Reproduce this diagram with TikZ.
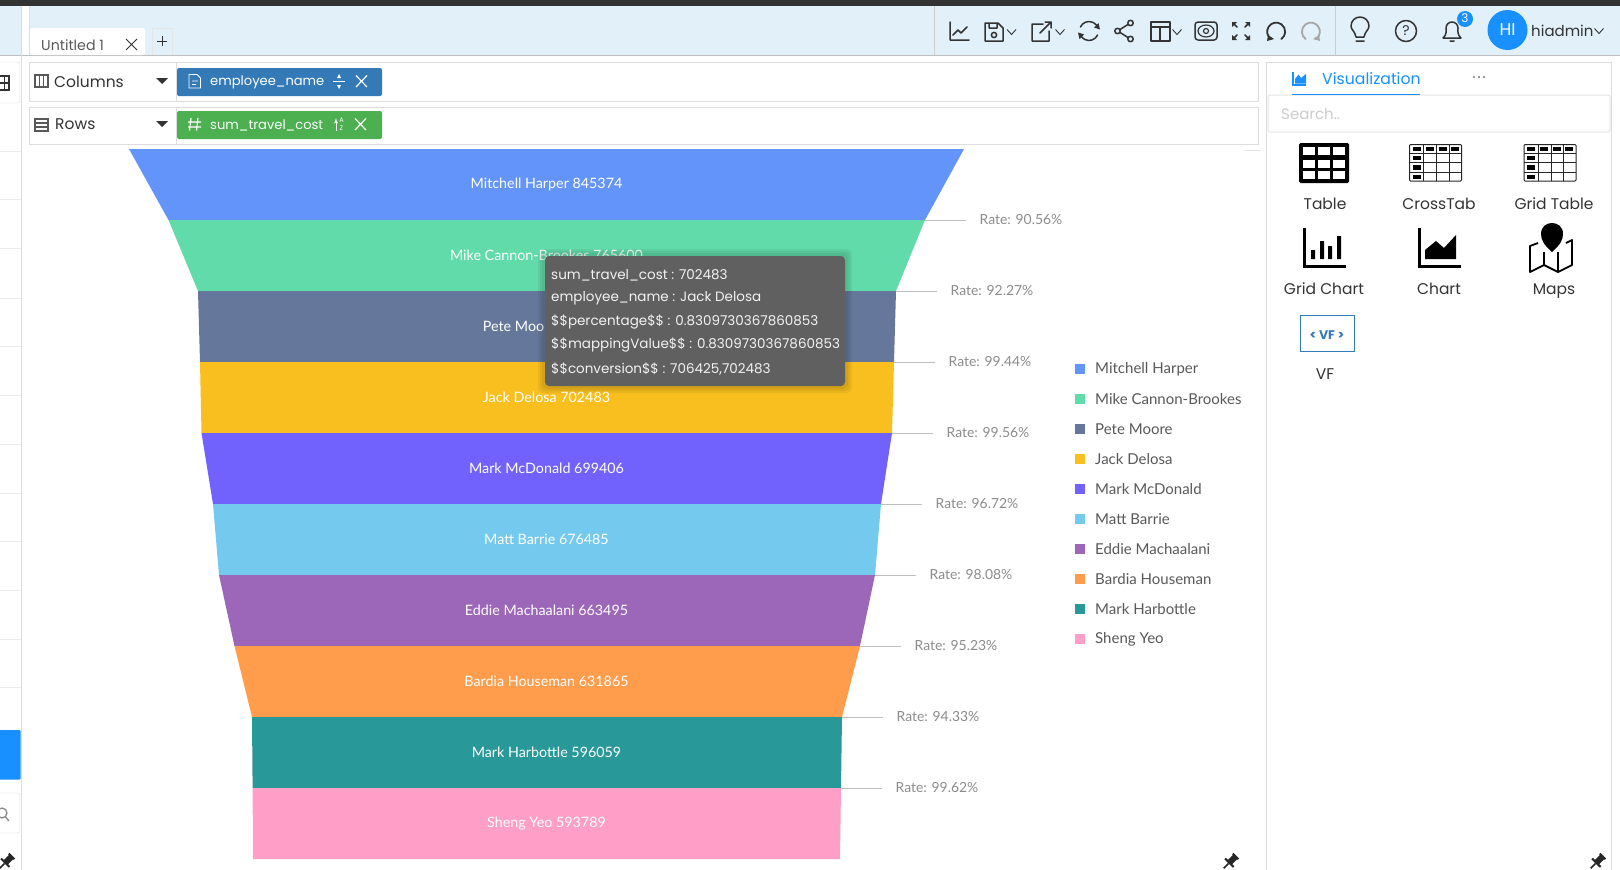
\documentclass[tikz,border=0pt]{standalone}
\usepackage{fontspec}
\setmainfont{Poppins}
\newfontfamily\chartfont{Lato}
\usetikzlibrary{arrows}
\usetikzlibrary{positioning}
\usetikzlibrary{math}
\definecolor{headbg}{HTML}{E1F0F9}
\definecolor{rule}{HTML}{DDDDDD}
\definecolor{ink}{HTML}{333333}
\definecolor{rategray}{HTML}{8C8C8C}
\definecolor{legendink}{HTML}{595959}
\definecolor{uiblue}{HTML}{1890FF}
\definecolor{pillblue}{HTML}{337AB7}
\definecolor{pillgreen}{HTML}{4CAF50}
\definecolor{tipgray}{HTML}{606060}
\definecolor{c1}{HTML}{6294F9}
\definecolor{c2}{HTML}{61DBA9}
\definecolor{c3}{HTML}{65789B}
\definecolor{c4}{HTML}{F8BF1F}
\definecolor{c5}{HTML}{7262FD}
\definecolor{c6}{HTML}{74C9EE}
\definecolor{c7}{HTML}{9C67B8}
\definecolor{c8}{HTML}{FF9D4C}
\definecolor{c9}{HTML}{289898}
\definecolor{c10}{HTML}{FF9EC6}
\tikzstyle{seglabel} = [text=white, font=\chartfont\fontsize{14.3}{16}\selectfont, inner sep=0pt]
\tikzstyle{ratelabel} = [anchor=west, text=rategray, font=\chartfont\fontsize{13.9}{16}\selectfont, inner sep=0pt]
\tikzstyle{legendlabel} = [anchor=west, text=legendink, font=\chartfont\fontsize{15}{17}\selectfont, inner sep=0pt]
\tikzstyle{leader} = [draw=black!25, line width=0.9pt]
\tikzstyle{uilabel} = [text=ink, font=\fontsize{15.5}{17}\selectfont, inner sep=0pt]
\tikzstyle{pilllabel} = [anchor=west, text=white, font=\fontsize{13.1}{16}\selectfont, inner sep=0pt]
\tikzstyle{tiplabel} = [anchor=west, text=white!95!black, font=\fontsize{13.5}{16}\selectfont, inner sep=0pt]
\tikzstyle{framebox} = [draw=rule, line width=1pt, fill=white]
\tikzstyle{icon} = [draw=ink, line width=1.5pt, line cap=round, line join=round]
\tikzstyle{chevron} = [draw=ink, line width=0.9pt]
\tikzstyle{cross} = [draw=white, line width=1.2pt]

\begin{document}
\begin{tikzpicture}[x=1pt, y=-1pt, >=latex']

  \useasboundingbox (0,0) rectangle (1620,870);
  \fill[white] (0,0) rectangle (1620,870);

  % header
  \fill[headbg] (0,5) rectangle (1620,55);
  \fill[ink] (0,0) rectangle (1620,5.5);
  \fill[white] (21,5.5) rectangle (29,55);
  \draw[black!25, line width=1pt] (0,55) -- (1620,55);
  \draw[rule, line width=1pt] (21.5,5.5) -- (21.5,870);
  \draw[rule, line width=1pt] (29,5.5) -- (29,55);
  \draw[black!20, line width=1pt] (934,5.5) -- (934,55);
  \draw[black!20, line width=1pt] (1335,5.5) -- (1335,55);

  \fill[white, rounded corners=2pt] (30,28) -- (145,28) -- (145,55) -- (30,55) -- cycle;
  \node[uilabel, anchor=west, text=black!65, font=\fontsize{14.2}{16}\selectfont] (tabname) at (41,45) {Untitled 1};
  \draw[ink, line width=1pt] (126,39) -- (137,50) (137,39) -- (126,50);
  \draw[black!10] (152,55) -- (152,28) -- (172,28) -- (172,55);
  \draw[ink, line width=1pt] (157,41) -- (167,41) (162,36) -- (162,46);

  % left rail
  \foreach \y in {151,199,248,298,346,395,444,493,541,590,639,687} {
    \draw[black!8] (0,\y) -- (21,\y);
  }
  \draw[rule, rounded corners=2pt] (-3,62) rectangle (19.5,103);
  \draw[ink, line width=1.4pt] (0,76) -- (9,76) -- (9,90) -- (0,90) (0,83) -- (9,83) (4.5,76) -- (4.5,90);
  \fill[uiblue, rounded corners=1pt] (-3,730) rectangle (20.5,779.5);
  \draw[rule, rounded corners=2pt] (-3,793) rectangle (19.5,833);
  \draw[black!45, line width=1.3pt] (2,813) circle (5) (5.5,817) -- (9,821);

  % columns and rows
  \draw[framebox] (29,62) rectangle (1258,101);
  \draw[framebox] (29,107) rectangle (1258,144.5);
  \draw[rule, line width=1pt] (176,62) -- (176,101) (176,107) -- (176,144.5);

  \draw[black!65, line width=1.2pt] (35,75) rectangle (48,87) (39.3,75) -- (39.3,87) (43.6,75) -- (43.6,87);
  \node[uilabel, anchor=west] (columnslabel) at (54,81.5) {Columns};
  \fill[ink] (156,78) -- (168,78) -- (162,84) -- cycle;
  \fill[pillblue, rounded corners=2pt] (177,68) rectangle (382,96);
  \draw[white, line width=0.9pt] (189,74.5) -- (197,74.5) -- (200.5,78) -- (200.5,88) -- (189,88) -- cycle (192,81) -- (198,81) (192,84.5) -- (196,84.5);
  \node[pilllabel] (columnpill) at (210,82) {employee\_name};
  \draw[white, line width=0.9pt] (333,81.5) -- (345,81.5);
  \fill[white] (339,74) -- (341,78) -- (337,78) -- cycle (339,89) -- (341,85) -- (337,85) -- cycle;
  \draw[cross] (356,75.5) -- (367,87) (367,75.5) -- (356,87);

  \draw[black!65, line width=1.2pt] (35,119) rectangle (48,131) (35,123) -- (48,123) (35,127) -- (48,127);
  \node[uilabel, anchor=west] (rowslabel) at (55,124.5) {Rows};
  \fill[ink] (156,121) -- (168,121) -- (162,127) -- cycle;
  \fill[pillgreen, rounded corners=2pt] (177,111) rectangle (382,139);
  \draw[white, line width=1.2pt] (191,118) -- (189.5,130.5) (198,118) -- (196.5,130.5) (188,122) -- (201,122) (188,127) -- (201,127);
  \node[pilllabel] (rowpill) at (210,125) {sum\_travel\_cost};
  \draw[white, line width=0.9pt, ->] (336,131) -- (336,118);
  \node[inner sep=0pt, text=white, font=\fontsize{6.5}{7}\selectfont] (sorta) at (341.5,120) {A};
  \node[inner sep=0pt, text=white, font=\fontsize{6.5}{7}\selectfont] (sortz) at (341.5,128) {Z};
  \draw[cross] (355,118.5) -- (366,130) (366,118.5) -- (355,130);

  % funnel
  \foreach \i/\xa/\xb/\xc/\xd/\txt in {
    0/129/964/168.5/925/Mitchell Harper 845374,
    1/168.5/925/198/896/Mike Cannon-Brookes 765600,
    2/198/896/200/894/Pete Moore 706425,
    3/200/894/201.5/892/Jack Delosa 702483,
    4/201.5/892/213/881/Mark McDonald 699406,
    5/213/881/219/875/Matt Barrie 676485,
    6/219/875/234.5/860/Eddie Machaalani 663495,
    7/234.5/860/252/842/Bardia Houseman 631865,
    8/252/842/252.6/841/Mark Harbottle 596059,
    9/252.6/841/253/840/Sheng Yeo 593789} {
    \tikzmath{integer \k; \k = \i+1; \ya = 149+71*\i; \yb = \ya+71; \ym = \ya+35.5;}
    \fill[c\k] (\xa,\ya) -- (\xb,\ya) -- (\xd,\yb) -- (\xc,\yb) -- cycle;
    \node[seglabel] (seg\k) at (546.5,\ym) {\txt};
  }

  % rates
  \foreach \k/\xr/\txt in {
    1/925/90.56, 2/896/92.27, 3/894/99.44, 4/892/99.56, 5/881/96.72,
    6/875/98.08, 7/860/95.23, 8/842/94.33, 9/841/99.62} {
    \tikzmath{\yr = 149+71*\k; \xe = \xr+41; \xt = \xr+54.5;}
    \coordinate (rs\k) at (\xr,\yr);
    \coordinate (re\k) at (\xe,\yr);
    \node[ratelabel] (rate\k) at (\xt,\yr) {Rate: \txt\%};
    \draw[leader] (rs\k) -- (re\k);
  }

  % legend
  \foreach \k/\txt in {
    1/Mitchell Harper, 2/Mike Cannon-Brookes, 3/Pete Moore, 4/Jack Delosa, 5/Mark McDonald,
    6/Matt Barrie, 7/Eddie Machaalani, 8/Bardia Houseman, 9/Mark Harbottle, 10/Sheng Yeo} {
    \tikzmath{\yl = 369+30*(\k-1);}
    \fill[c\k] (1075,\yl-5.5) rectangle (1085,\yl+4.5);
    \node[legendlabel] (legend\k) at (1095,\yl) {\txt};
  }

  % tooltip
  \foreach \g in {7,5,3} {
    \fill[black, opacity=0.05, rounded corners=5pt] (545-\g,256-\g) rectangle (845+\g,386+\g);
  }
  \fill[tipgray, rounded corners=4pt] (545,256) rectangle (845,386);
  \node[tiplabel] (tip1) at (551,275) {sum\_travel\_cost : 702483};
  \node[tiplabel] (tip2) at (551,298) {employee\_name : Jack Delosa};
  \node[tiplabel] (tip3) at (551,322) {\$\$percentage\$\$ : 0.8309730367860853};
  \node[tiplabel] (tip4) at (551,345) {\$\$mappingValue\$\$ : 0.8309730367860853};
  \node[tiplabel] (tip5) at (551,369) {\$\$conversion\$\$ : 706425,702483};

  \draw[black!12, line width=1pt] (1245,150) -- (1260,150);

  % toolbar
  \draw[icon] (950,22) -- (950,40) -- (969,40) (953,35) -- (958,30) -- (961,33) -- (967,27);
  \draw[icon] (985,23) -- (998,23) -- (1003,28) -- (1003,41) -- (985,41) -- cycle (989,23) -- (989,28) -- (997,28) -- (997,23);
  \draw[icon] (994,35) circle (2.6);
  \draw[icon] (1043,24) -- (1032,24) -- (1032,41) -- (1049,41) -- (1049,31) (1040,33) -- (1051,22) (1045,22) -- (1051,22) -- (1051,28);
  \draw[icon] (1080.4,27) arc (205:340:9.5) (1097.6,35) arc (25:160:9.5);
  \fill[ink] (1100,29.5) -- (1094,27.5) -- (1098.5,23) -- cycle (1078,32.5) -- (1084,34.5) -- (1079.5,39) -- cycle;
  \draw[icon] (1130.5,23) circle (2.7) (1130.5,39) circle (2.7) (1117.5,31) circle (2.7) (1128,24.5) -- (1120,29.5) (1128,37.5) -- (1120,32.5);
  \draw[icon] (1151,22) rectangle (1170,41) (1151,27) -- (1170,27) (1160,27) -- (1160,41);
  \draw[icon, rounded corners=3pt] (1195,22) rectangle (1217,40);
  \draw[icon, line width=1.2pt] (1206,31) ellipse (8 and 6) (1206,31) circle (2.5);
  \draw[icon] (1233,23) -- (1237,27) (1249,23) -- (1245,27) (1233,39) -- (1237,35) (1249,39) -- (1245,35);
  \fill[ink] (1232,22) -- (1237,22) -- (1232,27) -- cycle (1250,22) -- (1245,22) -- (1250,27) -- cycle (1232,40) -- (1237,40) -- (1232,35) -- cycle (1250,40) -- (1245,40) -- (1250,35) -- cycle;
  \draw[icon, line width=1.8pt] (1271,39) arc (125:415:9);
  \fill[ink] (1267,41) -- (1274,39) -- (1268,35) -- cycle;
  \draw[icon, draw=black!35, line width=1.8pt] (1316,39) arc (55:-235:9);
  \fill[black!35] (1320,41) -- (1313,39) -- (1319,35) -- cycle;

  \draw[icon] (1356,37) .. controls (1355,31) and (1351,30) .. (1351,26) arc (180:360:9) .. controls (1369,30) and (1365,31) .. (1364,37) -- cycle (1356,41) -- (1364,41);
  \draw[icon] (1406,31) circle (10.5);
  \node[inner sep=0pt, text=ink, font=\fontsize{14}{16}\selectfont] (helpmark) at (1406,31) {?};
  \draw[icon] (1443,38) .. controls (1447,35) and (1446,30) .. (1446,28) arc (180:360:6) .. controls (1458,30) and (1457,35) .. (1461,38) -- cycle (1450,41) -- (1454,41);
  \fill[uiblue] (1465,19) circle (8);
  \node[inner sep=0pt, text=white, font=\fontsize{12}{14}\selectfont] (badge) at (1465,18.5) {3};
  \fill[uiblue] (1507.5,30) circle (20);
  \node[inner sep=0pt, text=white, font=\fontsize{17}{19}\selectfont] (avatar) at (1507.5,30) {HI};
  \node[uilabel, anchor=west, font=\fontsize{15}{17}\selectfont] (username) at (1531,31) {hiadmin};
  \foreach \xc/\yc in {1011.5/32, 1060/32, 1177/32, 1599/31} {
    \draw[chevron] (\xc-4.5,\yc-2.5) -- (\xc,\yc+2.5) -- (\xc+4.5,\yc-2.5);
  }

  % right panel
  \draw[rule, line width=1pt] (1266,870) -- (1266,62) -- (1611,62) -- (1611,870);
  \draw[draw=black!10, line width=1pt, fill=white, rounded corners=1.5pt] (1268,95) rectangle (1610,132);
  \draw[uiblue, line width=1pt] (1292,94) -- (1420,94);
  \draw[uiblue, line width=1.1pt] (1293,72) -- (1293,85) -- (1306,85);
  \fill[uiblue] (1295,83.5) -- (1295,79) -- (1298.5,74.5) -- (1301,78) -- (1306,74) -- (1306,83.5) -- cycle;
  \node[uilabel, anchor=west, text=uiblue, font=\fontsize{15.7}{18}\selectfont] (viztab) at (1322,78.5) {Visualization};
  \foreach \xd in {1474,1479,1484} {
    \fill[ink] (\xd,77) circle (0.9);
  }
  \node[uilabel, anchor=west, text=black!20, font=\fontsize{15}{17}\selectfont] (searchbox) at (1281,114) {Search..};

  \fill[black, rounded corners=1.5pt] (1299,143) rectangle (1349,183);
  \foreach \cx in {1303,1318,1333} {
    \foreach \cy in {147,160,171} {
      \fill[white] (\cx,\cy) rectangle (\cx+12,\cy+8);
    }
  }
  \foreach \ox in {1409.5,1524} {
    \draw[black!85, line width=1pt, rounded corners=1pt] (\ox,144.5) rectangle (\ox+52,181);
    \draw[black!85, line width=1pt] (\ox,153) -- (\ox+52,153) (\ox,162.5) -- (\ox+52,162.5) (\ox,172) -- (\ox+52,172)
      (\ox+14,144.5) -- (\ox+14,181) (\ox+27,144.5) -- (\ox+27,181) (\ox+39.5,144.5) -- (\ox+39.5,181);
    \foreach \cx in {3,16,29,41} {
      \fill[black] (\ox+\cx,146.5) rectangle (\ox+\cx+8,151);
    }
    \foreach \cy in {155.5,165,174.5} {
      \fill[black] (\ox+3,\cy) rectangle (\ox+11,\cy+4.5);
    }
  }
  \draw[black, line width=3pt] (1304,228) -- (1304,266) -- (1346,266);
  \fill[black] (1311,250) rectangle (1315,259) (1320,241) rectangle (1324,259) (1328,246) rectangle (1332,259) (1337,236) rectangle (1341,259);
  \draw[black, line width=3pt] (1419,228) -- (1419,266) -- (1461,266);
  \fill[black] (1425,259) -- (1425,250) -- (1436,241) -- (1444,248) -- (1456,235) -- (1456,259) -- cycle;
  \draw[black, line join=round, line width=1.8pt] (1538,243) -- (1530,246) -- (1530,272) -- (1544,265) -- (1558,272) -- (1572,265) -- (1572,240) -- (1566,243) (1544,252) -- (1544,265) (1558,252) -- (1558,272);
  \fill[black] (1552,252) .. controls (1544,245) and (1541,240) .. (1541,234) .. controls (1541,226) and (1547,223) .. (1552,223) .. controls (1557,223) and (1563,226) .. (1563,234) .. controls (1563,240) and (1560,245) .. (1552,252) -- cycle;

  \draw[pillblue, line width=1pt, fill=white] (1300.5,315) rectangle (1354.5,351);
  \node[inner sep=0pt, text=pillblue, font=\bfseries\fontsize{12.5}{14}\selectfont] (vficon) at (1327,335) {< VF >};

  \foreach \nm/\xc/\yc/\txt in {
    tablelabel/1325/209.5/Table, crosslabel/1439/209.5/CrossTab, gridtablelabel/1554/209.5/Grid Table,
    gridchartlabel/1324/294.5/Grid Chart, chartlabel/1439/294.5/Chart, mapslabel/1554/294.5/Maps,
    vflabel/1325/379.5/VF} {
    \node[uilabel, anchor=base] (\nm) at (\xc,\yc) {\txt};
  }

  % pins
  \foreach \px in {6,1230,1597} {
    \begin{scope}[shift={(\px,862)}, rotate=-45]
      \fill[black!85] (-4,-9) rectangle (4,-7) (-3,-7) rectangle (3,0) (-6,0) rectangle (6,2);
      \fill[black!85] (-0.8,2) rectangle (0.8,9);
    \end{scope}
  }

\end{tikzpicture}
\end{document}
